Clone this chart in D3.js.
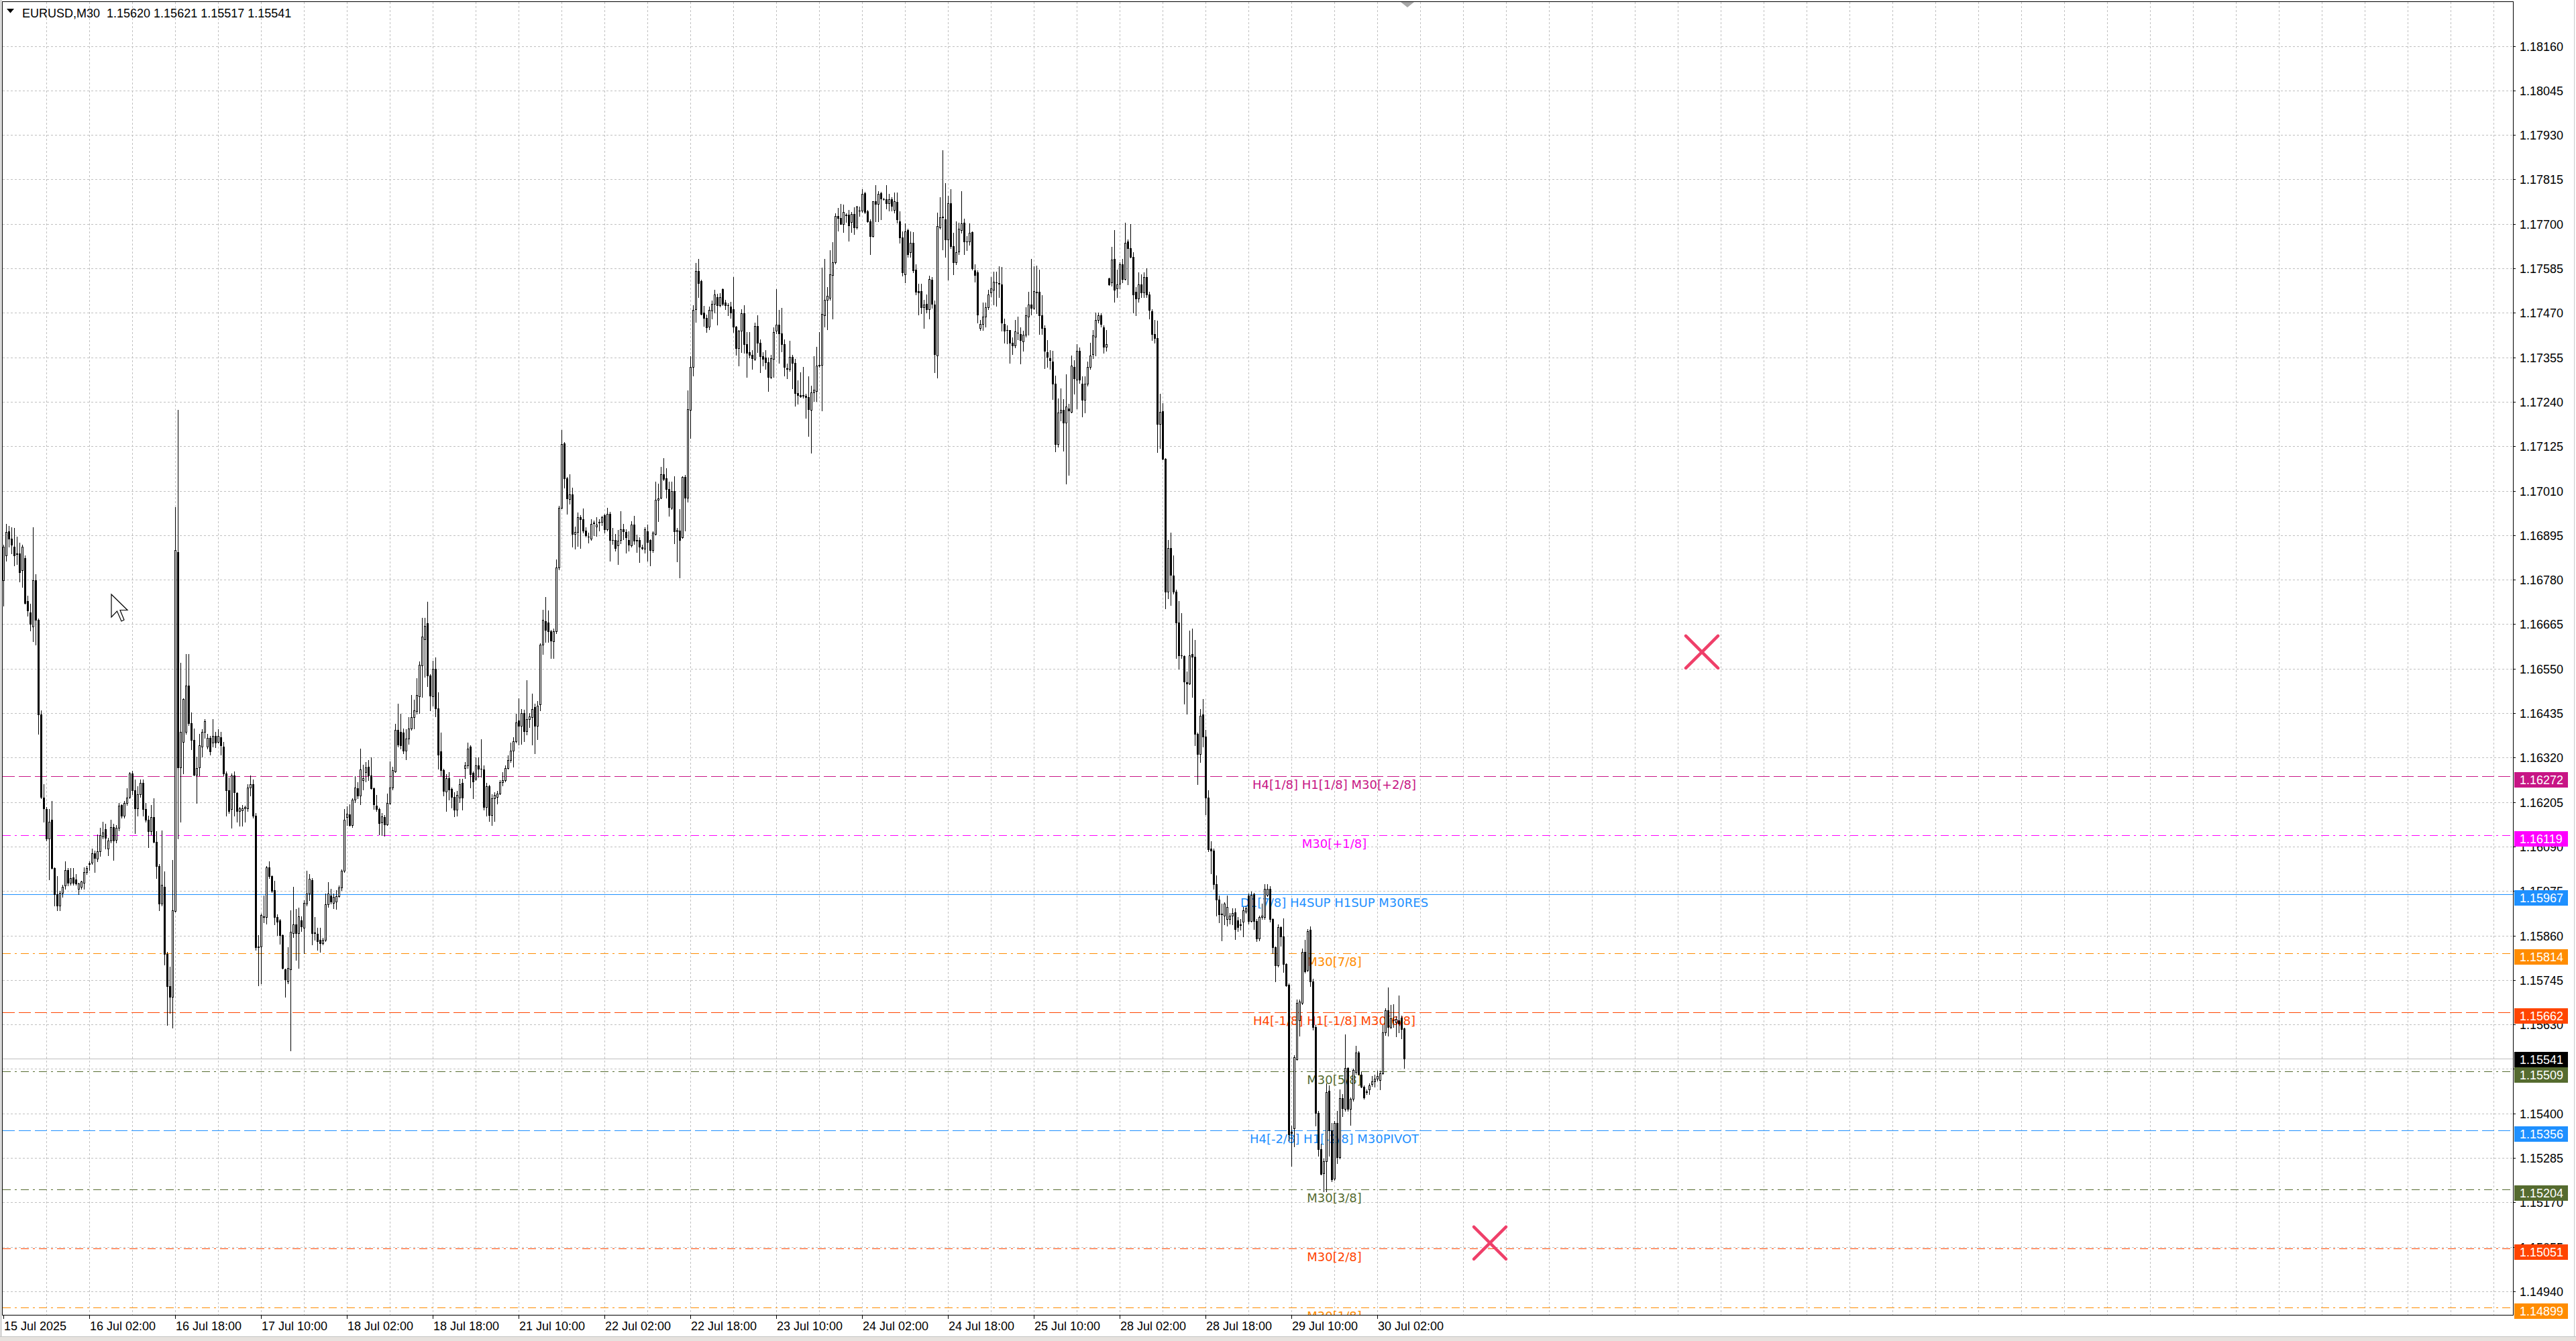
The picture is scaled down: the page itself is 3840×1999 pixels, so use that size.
<!DOCTYPE html>
<html>
<head>
<meta charset="utf-8">
<script src="https://cdn.jsdelivr.net/npm/d3@7/dist/d3.min.js"></script>
<style>
  html, body { margin: 0; padding: 0; background: #fff; overflow: hidden; }
</style>
</head>
<body>
<script>
// Header line of the chart window
const titleText = "EURUSD,M30  1.15620 1.15621 1.15517 1.15541";

// OHLC per 30-minute bar, in points above BASE (price = BASE + v / 100000), 16 bars per row
const BASE = 1.14;
const opens = [
  2778,2843,2905,2886,2865,2848,2848,2805,2835,2724,2696,2658,2778,2677,2431,2217,
  2187,2111,2160,2035,1967,1937,1970,1989,2029,1997,2010,2005,1980,1986,1997,2024,
  2044,2048,2073,2058,2078,2116,2135,2084,2105,2141,2108,2138,2197,2170,2203,2219,
  2279,2235,2189,2225,2254,2187,2159,2130,2167,2102,2040,1943,1986,1812,1729,1701,
  1923,2851,2295,2360,2387,2507,2409,2366,2276,2295,2349,2387,2349,2371,2358,2376,
  2360,2373,2349,2279,2235,2187,2273,2228,2181,2184,2189,2189,2243,2252,2170,1832,
  1832,1910,1907,2037,2013,1977,1907,1899,1861,1772,1742,1772,1867,1888,1867,1899,
  1880,1942,1969,2004,1868,1864,1849,1841,1848,1940,1964,1945,1948,1962,1984,2028,
  2166,2174,2146,2212,2240,2221,2261,2283,2296,2274,2240,2196,2187,2152,2166,2148,
  2203,2243,2285,2391,2387,2385,2338,2369,2396,2424,2440,2479,2559,2626,2668,2532,
  2479,2550,2448,2336,2287,2232,2267,2239,2218,2186,2217,2254,2293,2299,2349,2281,
  2265,2299,2292,2290,2193,2246,2172,2214,2219,2227,2256,2261,2293,2314,2338,2362,
  2416,2402,2435,2389,2420,2424,2451,2402,2458,2612,2672,2670,2647,2621,2646,2811,
  2966,3132,3042,2989,3001,2898,2904,2942,2936,2906,2892,2886,2926,2918,2927,2929,
  2947,2911,2951,2883,2883,2868,2882,2911,2903,2883,2868,2923,2882,2882,2862,2860,
  2905,2882,2857,2899,2986,2992,3052,3042,3015,2965,3009,2905,2906,2889,3046,2992,
  3219,3330,3480,3578,3552,3471,3457,3434,3475,3493,3510,3490,3531,3496,3490,3486,
  3479,3434,3378,3424,3469,3389,3369,3361,3351,3436,3393,3358,3355,3343,3304,3351,
  3424,3440,3417,3389,3325,3324,3356,3341,3262,3258,3255,3255,3252,3219,3265,3268,
  3333,3335,3463,3503,3508,3568,3601,3721,3715,3700,3722,3723,3705,3725,3690,3734,
  3735,3780,3733,3707,3669,3758,3752,3780,3764,3764,3754,3764,3736,3756,3706,3665,
  3570,3684,3626,3651,3581,3526,3526,3485,3493,3480,3555,3491,3360,3690,3717,3712,
  3659,3754,3643,3601,3629,3684,3703,3654,3654,3679,3579,3574,3430,3441,3460,3485,
  3522,3529,3548,3547,3544,3441,3426,3426,3393,3385,3419,3415,3396,3413,3460,3491,
  3482,3524,3524,3463,3430,3369,3352,3344,3286,3131,3212,3219,3186,3223,3214,3330,
  3297,3371,3286,3245,3286,3330,3363,3408,3452,3463,3433,3382,3559,3548,3610,3533,
  3546,3596,3557,3654,3637,3615,3524,3507,3544,3522,3563,3518,3474,3415,3404,3183,
  3216,3092,2749,2862,2791,2749,2669,2585,2583,2515,2512,2587,2581,2382,2329,2431,
  2375,2217,2085,2080,1992,1953,1916,1911,1903,1903,1911,1920,1899,1888,1895,1922,
  1963,1898,1966,1897,1853,1907,1907,1965,1980,1903,1829,1783,1881,1858,1787,1733,
  1353,1361,1540,1640,1686,1818,1770,1874,1742,1624,1401,1307,1245,1276,1458,1357,
  1231,1375,1287,1440,1411,1517,1411,1438,1508,1558,1500,1469,1455,1462,1476,1483,
  1489,1486,1504,1609,1667,1624,1641,1636,1641,1647,1620
];
const highs = [
  2870,2924,2919,2916,2913,2892,2875,2870,2843,2738,2718,2916,2794,2680,2442,2252,
  2192,2187,2208,2037,2013,1975,1991,2051,2035,2035,2035,2018,1997,2002,2037,2040,
  2051,2084,2080,2121,2138,2154,2149,2113,2159,2149,2145,2203,2200,2208,2241,2282,
  2286,2263,2246,2263,2263,2203,2170,2197,2214,2130,2045,2132,2026,1818,1780,2056,
  2968,3219,2566,2474,2588,2588,2436,2395,2322,2382,2393,2420,2382,2376,2420,2387,
  2393,2387,2360,2284,2268,2279,2284,2230,2192,2197,2195,2252,2273,2263,2176,1861,
  1917,1964,2040,2051,2015,2002,1915,1902,1863,1774,1829,1926,1986,1928,1932,1910,
  1951,2028,2019,2009,1907,1880,1880,1854,1969,1998,1980,1969,1978,1989,2031,2187,
  2194,2199,2214,2272,2256,2343,2302,2309,2314,2320,2243,2223,2190,2177,2172,2227,
  2311,2296,2408,2460,2433,2396,2393,2424,2482,2469,2526,2568,2681,2681,2723,2535,
  2570,2579,2488,2385,2292,2278,2283,2243,2230,2234,2265,2265,2309,2358,2352,2285,
  2320,2320,2367,2299,2254,2249,2225,2230,2234,2261,2283,2299,2325,2358,2373,2433,
  2473,2446,2444,2520,2435,2486,2460,2467,2615,2703,2736,2700,2650,2654,2833,2971,
  3167,3136,3045,3052,3017,2918,2953,2946,2964,2915,2902,2937,2933,2942,2937,2945,
  2951,2965,2955,2913,2899,2909,2958,2924,2911,2905,2932,2945,2897,2889,2870,2916,
  2922,2885,2905,3033,3029,3071,3095,3068,3033,3033,3048,2913,2963,3048,3051,3269,
  3358,3490,3599,3609,3556,3488,3465,3486,3502,3529,3519,3521,3533,3503,3494,3498,
  3562,3436,3426,3480,3490,3420,3420,3374,3444,3463,3401,3369,3374,3355,3362,3432,
  3531,3477,3483,3401,3339,3397,3362,3351,3296,3316,3330,3260,3306,3281,3358,3382,
  3420,3586,3610,3537,3632,3653,3728,3741,3752,3749,3728,3736,3731,3742,3746,3744,
  3790,3783,3736,3711,3759,3800,3785,3783,3767,3800,3778,3769,3781,3781,3732,3681,
  3701,3688,3681,3679,3596,3546,3546,3504,3518,3566,3563,3502,3729,3769,3891,3806,
  3773,3789,3677,3706,3703,3784,3714,3668,3701,3681,3596,3579,3452,3496,3496,3529,
  3563,3577,3577,3590,3588,3455,3437,3426,3407,3452,3460,3433,3424,3485,3524,3610,
  3590,3592,3581,3515,3437,3400,3374,3371,3308,3249,3275,3247,3311,3234,3360,3347,
  3389,3380,3305,3305,3344,3393,3426,3471,3471,3468,3437,3426,3561,3640,3684,3581,
  3601,3610,3703,3659,3699,3626,3537,3574,3570,3574,3585,3524,3480,3452,3449,3260,
  3236,3094,2882,2902,2843,2755,2725,2694,2584,2543,2649,2653,2625,2385,2446,2472,
  2391,2236,2104,2085,2015,1963,1942,1946,1963,1918,1930,1930,1907,1903,1934,1935,
  1969,1973,1971,1903,1911,1942,1992,1992,1988,1904,1832,1889,1884,1904,1788,1736,
  1369,1551,1695,1695,1827,1849,1876,1884,1748,1628,1407,1322,1283,1477,1473,1376,
  1380,1406,1462,1450,1605,1520,1442,1516,1574,1561,1508,1473,1462,1477,1496,1500,
  1510,1510,1628,1672,1726,1680,1682,1651,1705,1653,1621
];
const lows = [
  2713,2829,2865,2848,2816,2821,2775,2761,2718,2686,2648,2621,2612,2382,2214,2154,
  2105,2005,2033,1937,1926,1926,1959,1980,1989,1991,1991,1991,1967,1980,1980,2018,
  2029,2045,2024,2051,2065,2111,2084,2067,2100,2056,2100,2132,2165,2165,2197,2214,
  2225,2124,2170,2219,2170,2154,2089,2121,2100,2008,1926,1937,1785,1628,1660,1622,
  1921,2111,2154,2279,2382,2404,2341,2273,2203,2273,2322,2371,2344,2328,2349,2347,
  2358,2328,2273,2170,2176,2138,2170,2154,2143,2143,2154,2181,2221,2165,1823,1731,
  1736,1894,1891,2008,1972,1888,1861,1839,1774,1701,1736,1563,1856,1796,1776,1872,
  1814,1938,1951,1836,1849,1823,1818,1836,1845,1933,1942,1931,1929,1960,1978,2024,
  2146,2143,2141,2205,2214,2199,2238,2258,2261,2239,2187,2181,2122,2119,2117,2146,
  2199,2238,2283,2349,2343,2331,2316,2355,2391,2396,2433,2435,2477,2529,2504,2442,
  2455,2426,2292,2274,2221,2181,2212,2190,2168,2170,2205,2185,2267,2293,2243,2214,
  2261,2270,2270,2186,2170,2155,2146,2155,2201,2225,2247,2258,2292,2308,2296,2358,
  2354,2355,2362,2380,2398,2354,2331,2367,2442,2588,2619,2619,2577,2577,2641,2807,
  2964,3017,2951,2977,2865,2860,2867,2862,2902,2891,2875,2883,2895,2893,2906,2921,
  2901,2906,2829,2872,2854,2820,2874,2885,2849,2854,2866,2872,2852,2826,2858,2850,
  2829,2816,2852,2896,2932,2990,3037,2992,2945,2963,2874,2827,2785,2888,2906,2981,
  3147,3308,3446,3511,3465,3436,3420,3428,3455,3471,3440,3486,3490,3480,3463,3457,
  3420,3362,3333,3369,3366,3304,3355,3325,3347,3369,3317,3333,3324,3268,3300,3304,
  3417,3341,3370,3307,3300,3320,3275,3230,3234,3252,3250,3199,3151,3108,3242,3242,
  3330,3217,3434,3428,3503,3455,3597,3682,3700,3679,3704,3657,3679,3674,3688,3721,
  3731,3728,3705,3622,3666,3707,3707,3711,3762,3740,3734,3734,3729,3703,3651,3566,
  3548,3614,3614,3574,3518,3466,3468,3430,3471,3455,3482,3316,3302,3688,3634,3615,
  3555,3637,3570,3596,3621,3677,3621,3632,3646,3581,3551,3444,3426,3426,3435,3480,
  3513,3491,3488,3510,3424,3393,3391,3341,3363,3380,3402,3338,3371,3408,3413,3466,
  3480,3468,3415,3415,3327,3330,3325,3247,3112,3123,3192,3114,3028,3050,3212,3260,
  3223,3289,3201,3212,3282,3325,3352,3360,3444,3435,3367,3371,3541,3540,3499,3510,
  3533,3548,3555,3544,3612,3471,3463,3499,3510,3510,3510,3455,3400,3393,3109,3120,
  3090,2705,2732,2714,2743,2577,2550,2577,2460,2434,2510,2477,2352,2252,2308,2348,
  2174,2077,2021,1980,1912,1894,1847,1889,1886,1891,1889,1850,1872,1874,1858,1918,
  1891,1895,1876,1845,1847,1903,1903,1961,1895,1814,1742,1779,1833,1765,1729,1330,
  1264,1314,1539,1601,1682,1764,1767,1729,1616,1369,1291,1241,1198,1198,1291,1225,
  1228,1272,1283,1392,1407,1406,1370,1432,1502,1500,1468,1438,1450,1450,1471,1469,
  1485,1462,1502,1602,1601,1620,1624,1599,1610,1594,1517
];
const closes = [
  2865,2903,2886,2870,2843,2846,2800,2865,2720,2700,2666,2778,2677,2431,2219,2189,
  2111,2154,2035,1967,1937,1970,1986,2029,1997,2008,1997,1994,1994,1999,2024,2035,
  2046,2073,2060,2078,2119,2127,2113,2105,2140,2105,2138,2195,2170,2203,2217,2279,
  2235,2189,2225,2254,2187,2159,2130,2167,2102,2040,1943,1991,1812,1729,1701,1926,
  2857,2295,2387,2471,2507,2409,2366,2276,2293,2351,2387,2414,2371,2336,2376,2358,
  2376,2351,2279,2235,2181,2273,2230,2181,2189,2189,2192,2243,2252,2170,1829,1829,
  1913,1908,2037,2013,1975,1907,1896,1861,1776,1747,1776,1870,1888,1867,1910,1883,
  1944,1969,2007,1867,1866,1845,1841,1849,1940,1969,1947,1960,1962,1984,2028,2159,
  2175,2146,2212,2243,2221,2290,2267,2294,2274,2240,2199,2187,2150,2168,2148,2203,
  2243,2287,2391,2354,2352,2338,2369,2396,2424,2442,2482,2560,2632,2661,2532,2481,
  2550,2448,2327,2287,2234,2267,2237,2218,2186,2223,2252,2217,2299,2343,2278,2258,
  2299,2292,2291,2193,2246,2172,2214,2223,2227,2256,2261,2293,2314,2338,2362,2411,
  2402,2435,2389,2420,2426,2446,2402,2455,2612,2677,2650,2647,2623,2646,2811,2966,
  3130,3042,2990,3001,2898,2904,2942,2937,2906,2895,2891,2924,2927,2922,2929,2942,
  2911,2951,2883,2882,2862,2880,2911,2905,2889,2870,2923,2880,2881,2866,2863,2911,
  2878,2857,2901,2986,2990,3052,3040,3015,2967,3009,2905,2909,2883,3046,2992,3221,
  3330,3477,3578,3547,3467,3457,3432,3477,3493,3517,3490,3510,3493,3490,3489,3471,
  3434,3378,3423,3469,3389,3366,3362,3353,3436,3393,3358,3351,3343,3304,3353,3420,
  3440,3417,3389,3330,3326,3356,3341,3262,3258,3254,3258,3252,3221,3265,3271,3333,
  3335,3467,3503,3514,3570,3601,3721,3715,3700,3731,3723,3696,3725,3690,3744,3735,
  3777,3731,3707,3669,3758,3752,3777,3766,3763,3754,3764,3747,3758,3712,3665,3574,
  3681,3621,3651,3579,3524,3522,3485,3491,3480,3557,3493,3363,3695,3717,3718,3659,
  3754,3643,3601,3626,3688,3701,3654,3655,3677,3585,3568,3466,3441,3460,3485,3518,
  3533,3551,3549,3546,3444,3424,3425,3393,3385,3422,3418,3400,3413,3463,3491,3482,
  3526,3523,3463,3430,3371,3356,3347,3286,3131,3212,3219,3186,3227,3218,3333,3300,
  3371,3297,3245,3286,3330,3360,3411,3452,3463,3441,3382,3389,3544,3607,3529,3543,
  3596,3557,3651,3637,3615,3518,3507,3544,3522,3563,3518,3477,3415,3404,3183,3214,
  3092,2749,2862,2793,2749,2669,2585,2584,2516,2512,2585,2580,2381,2330,2428,2375,
  2217,2083,2080,1992,1953,1915,1914,1942,1934,1912,1918,1876,1881,1887,1925,1930,
  1897,1965,1897,1853,1907,1911,1980,1980,1903,1829,1783,1881,1858,1787,1731,1345,
  1350,1545,1686,1690,1818,1767,1872,1742,1624,1401,1307,1243,1276,1455,1357,1229,
  1375,1287,1440,1414,1517,1411,1438,1512,1558,1502,1469,1442,1456,1473,1483,1489,
  1496,1504,1610,1667,1624,1646,1640,1644,1632,1618,1541
];

// Time axis labels, one every 32 bars starting at bar 0
const timeLabels = ["15 Jul 2025","16 Jul 02:00","16 Jul 18:00","17 Jul 10:00","18 Jul 02:00",
  "18 Jul 18:00","21 Jul 10:00","22 Jul 02:00","22 Jul 18:00","23 Jul 10:00","24 Jul 02:00",
  "24 Jul 18:00","25 Jul 10:00","28 Jul 02:00","28 Jul 18:00","29 Jul 10:00","30 Jul 02:00"];

// Price axis tick labels
const priceTicks = ["1.14940","1.15055","1.15170","1.15285","1.15400","1.15515","1.15630",
  "1.15745","1.15860","1.15975","1.16090","1.16205","1.16320","1.16435","1.16550","1.16665",
  "1.16780","1.16895","1.17010","1.17125","1.17240","1.17355","1.17470","1.17585","1.17700",
  "1.17815","1.17930","1.18045","1.18160"];

// Murrey-style levels drawn as horizontal lines with a tag on the price axis
const levelPrices = [1.16272, 1.16119, 1.15967, 1.15814, 1.15662, 1.15509, 1.15356, 1.15204, 1.15051, 1.14899];
const levelNames = ["H4[1/8] H1[1/8] M30[+2/8]", "M30[+1/8]", "D1[7/8] H4SUP H1SUP M30RES", "M30[7/8]",
  "H4[-1/8] H1[-1/8] M30[6/8]", "M30[5/8]", "H4[-2/8] H1[-2/8] M30PIVOT", "M30[3/8]", "M30[2/8]", "M30[1/8]"];
const levelColors = ["#c71585","#ff00ff","#1e90ff","#ff8c00","#ff4500","#556b2f","#1e90ff","#556b2f","#ff4500","#ff8c00"];
const levelStyles = ["dash","dashdot","solid","dashdot","dash","dashdot","dash","dashdot","dashdot","dashdot"];
const labelBar = 496;

const lastPrice = 1.15541;

// Cross markers (bar index, price)
const crossBars = [633, 554];
const crossPrices = [1.16593, 1.15065];

// ---------------------------------------------------------------------------
const W = 3840, H = 1999;
const plotLeft = 4, plotRight = 3746, plotTop = 3, plotBottom = 1960;
const axisFont = "'Liberation Sans', Arial, sans-serif";
const labelFont = "'DejaVu Sans', Verdana, sans-serif";

const x = d3.scaleLinear().domain([0, 935]).range([5, 5 + 4 * 935]);
const y = d3.scaleLinear().domain([1.14940, 1.18160]).range([1925, 68.5]);
const py = v => Math.round(y(v)) + 0.5;

const svg = d3.select("body").append("svg")
    .attr("width", W)
    .attr("height", H)
    .style("display", "block");

svg.append("rect").attr("width", W).attr("height", H).attr("fill", "#fff");

svg.append("clipPath").attr("id", "plotClip")
  .append("rect")
    .attr("x", plotLeft).attr("y", plotTop)
    .attr("width", plotRight - plotLeft).attr("height", plotBottom - plotTop);

const plot = svg.append("g").attr("clip-path", "url(#plotClip)");

// Grid
const grid = plot.append("g")
    .attr("shape-rendering", "crispEdges")
    .attr("stroke", "#c0c0c0")
    .attr("stroke-dasharray", "3,3");

grid.selectAll("line.h")
  .data(priceTicks)
  .join("line")
    .attr("class", "h")
    .attr("x1", plotLeft).attr("x2", plotRight)
    .attr("y1", d => py(+d)).attr("y2", d => py(+d));

grid.selectAll("line.v")
  .data(d3.range(16, 936, 16))
  .join("line")
    .attr("class", "v")
    .attr("x1", d => Math.round(x(d)) + 0.5).attr("x2", d => Math.round(x(d)) + 0.5)
    .attr("y1", plotTop).attr("y2", plotBottom);

// Level lines
const dashFor = s => s === "dash" ? "18,6" : s === "dashdot" ? "12,6,3,6" : null;
const levels = levelPrices.map((p, i) => ({ p, name: levelNames[i], color: levelColors[i], style: levelStyles[i] }));

plot.append("g")
    .attr("shape-rendering", "crispEdges")
  .selectAll("line")
  .data(levels)
  .join("line")
    .attr("x1", plotLeft).attr("x2", plotRight)
    .attr("y1", d => py(d.p)).attr("y2", d => py(d.p))
    .attr("stroke", d => d.color)
    .attr("stroke-width", 1)
    .attr("stroke-dasharray", d => dashFor(d.style));

// Current price line
plot.append("line")
    .attr("shape-rendering", "crispEdges")
    .attr("x1", plotLeft).attr("x2", plotRight)
    .attr("y1", py(lastPrice)).attr("y2", py(lastPrice))
    .attr("stroke", "#c0c0c0");

// Level names
plot.append("g")
  .selectAll("text")
  .data(levels)
  .join("text")
    .attr("x", x(labelBar))
    .attr("y", d => py(d.p) + 18)
    .attr("text-anchor", "middle")
    .attr("font-family", labelFont)
    .attr("font-size", 18)
    .attr("fill", d => d.color)
    .text(d => d.name);

// Candles
const bars = d3.range(Math.min(opens.length, highs.length, lows.length, closes.length)).map(i => {
  const o = BASE + opens[i] / 1e5, c = BASE + closes[i] / 1e5;
  return {
    i, o, c,
    h: Math.max(BASE + highs[i] / 1e5, o, c),
    l: Math.min(BASE + lows[i] / 1e5, o, c)
  };
});

const candles = plot.append("g").attr("shape-rendering", "crispEdges");
const bodyTop = d => Math.round(y(Math.max(d.o, d.c)));
const bodyBot = d => Math.round(y(Math.min(d.o, d.c)));

candles.selectAll("rect.wick")
  .data(bars)
  .join("rect")
    .attr("class", "wick")
    .attr("x", d => Math.round(x(d.i)))
    .attr("y", d => Math.round(y(d.h)))
    .attr("width", 1)
    .attr("height", d => Math.max(1, Math.round(y(d.l)) - Math.round(y(d.h)) + 1))
    .attr("fill", "#000");

candles.selectAll("rect.body")
  .data(bars)
  .join("rect")
    .attr("class", "body")
    .attr("x", d => Math.round(x(d.i)) - 1)
    .attr("y", bodyTop)
    .attr("width", 3)
    .attr("height", d => Math.max(1, bodyBot(d) - bodyTop(d) + 1))
    .attr("fill", "#000");

candles.selectAll("rect.hollow")
  .data(bars.filter(d => d.c > d.o && bodyBot(d) - bodyTop(d) >= 2))
  .join("rect")
    .attr("class", "hollow")
    .attr("x", d => Math.round(x(d.i)))
    .attr("y", d => bodyTop(d) + 1)
    .attr("width", 1)
    .attr("height", d => bodyBot(d) - bodyTop(d) - 1)
    .attr("fill", "#fff");

// Cross markers
const crosses = crossBars.map((b, i) => ({ cx: x(b), cy: y(crossPrices[i]) }));
const cg = plot.append("g")
    .attr("stroke", "#ef3f69")
    .attr("stroke-width", 4.5)
    .attr("stroke-linecap", "round");
cg.selectAll("path")
  .data(crosses)
  .join("path")
    .attr("d", d => `M${d.cx - 24},${d.cy - 24}L${d.cx + 24},${d.cy + 24}M${d.cx - 24},${d.cy + 24}L${d.cx + 24},${d.cy - 24}`);

// Mouse pointer left on the chart
plot.append("path")
    .attr("d", "M0,0L0,34L8.5,25L15,40L19,38L13,23.5L24,23.5Z")
    .attr("transform", "translate(166,886)")
    .attr("fill", "#fff")
    .attr("stroke", "#000")
    .attr("stroke-width", 1.2)
    .attr("stroke-linejoin", "miter");

// Chart shift marker at the top
svg.append("path")
    .attr("d", "M2088,3L2108,3L2098,11Z")
    .attr("fill", "#a8a8a8");

// Frame
svg.append("g")
    .attr("shape-rendering", "crispEdges")
    .attr("fill", "none")
    .call(g => g.append("rect")
      .attr("x", plotLeft - 0.5).attr("y", plotTop - 0.5)
      .attr("width", plotRight - plotLeft + 1).attr("height", plotBottom - plotTop + 1)
      .attr("stroke", "#000").attr("stroke-width", 1.5))
    .call(g => g.append("line")
      .attr("x1", 1.5).attr("x2", 1.5).attr("y1", 0).attr("y2", 1993)
      .attr("stroke", "#a0a0a0"))
    .call(g => g.append("line")
      .attr("x1", 3837.5).attr("x2", 3837.5).attr("y1", 0).attr("y2", 1993)
      .attr("stroke", "#c8c8c8"));

// Header
svg.append("path").attr("d", "M10,13L21,13L15.5,19.5Z").attr("fill", "#000");
svg.append("text")
    .attr("x", 33).attr("y", 25.5)
    .attr("font-family", axisFont)
    .attr("font-size", 18)
    .attr("fill", "#000")
    .style("white-space", "pre")
    .attr("xml:space", "preserve")
    .text(titleText);

// Price axis ticks and labels
const yAxis = svg.append("g");
yAxis.selectAll("line")
  .data(priceTicks)
  .join("line")
    .attr("shape-rendering", "crispEdges")
    .attr("x1", plotRight).attr("x2", plotRight + 4)
    .attr("y1", d => py(+d)).attr("y2", d => py(+d))
    .attr("stroke", "#000");
yAxis.selectAll("text")
  .data(priceTicks)
  .join("text")
    .attr("x", 3756)
    .attr("y", d => py(+d) + 6.5)
    .attr("font-family", axisFont)
    .attr("font-size", 18)
    .attr("fill", "#000")
    .text(d => d);

// Price tags for levels and the last price (level tags hang a little below their line)
const tags = levels.map(d => ({ p: d.p, color: d.color, off: 6 }))
  .concat([{ p: lastPrice, color: "#000", off: 10 }]);
const tg = svg.append("g").selectAll("g")
  .data(tags)
  .join("g");
tg.append("rect")
    .attr("shape-rendering", "crispEdges")
    .attr("x", 3748).attr("y", d => Math.round(y(d.p)) - d.off)
    .attr("width", 80).attr("height", 23)
    .attr("fill", d => d.color);
tg.append("text")
    .attr("x", 3756)
    .attr("y", d => Math.round(y(d.p)) - d.off + 18)
    .attr("font-family", axisFont)
    .attr("font-size", 18)
    .attr("fill", "#fff")
    .text(d => d.p.toFixed(5));

// Time axis
const xAxis = svg.append("g");
xAxis.selectAll("line")
  .data(timeLabels)
  .join("line")
    .attr("shape-rendering", "crispEdges")
    .attr("x1", (d, i) => Math.round(x(i * 32)) + 0.5).attr("x2", (d, i) => Math.round(x(i * 32)) + 0.5)
    .attr("y1", plotBottom).attr("y2", plotBottom + 6)
    .attr("stroke", "#000");
xAxis.selectAll("text")
  .data(timeLabels)
  .join("text")
    .attr("x", (d, i) => Math.round(x(i * 32)) + 1)
    .attr("y", 1983)
    .attr("font-family", axisFont)
    .attr("font-size", 18)
    .attr("fill", "#000")
    .text(d => d);

// Window bottom strip
svg.append("rect").attr("x", 0).attr("y", 1993).attr("width", W).attr("height", 6).attr("fill", "#e6e2de");
svg.append("line").attr("shape-rendering", "crispEdges")
    .attr("x1", 0).attr("x2", W).attr("y1", 1992.5).attr("y2", 1992.5).attr("stroke", "#c4c4c4");
</script>
</body>
</html>
